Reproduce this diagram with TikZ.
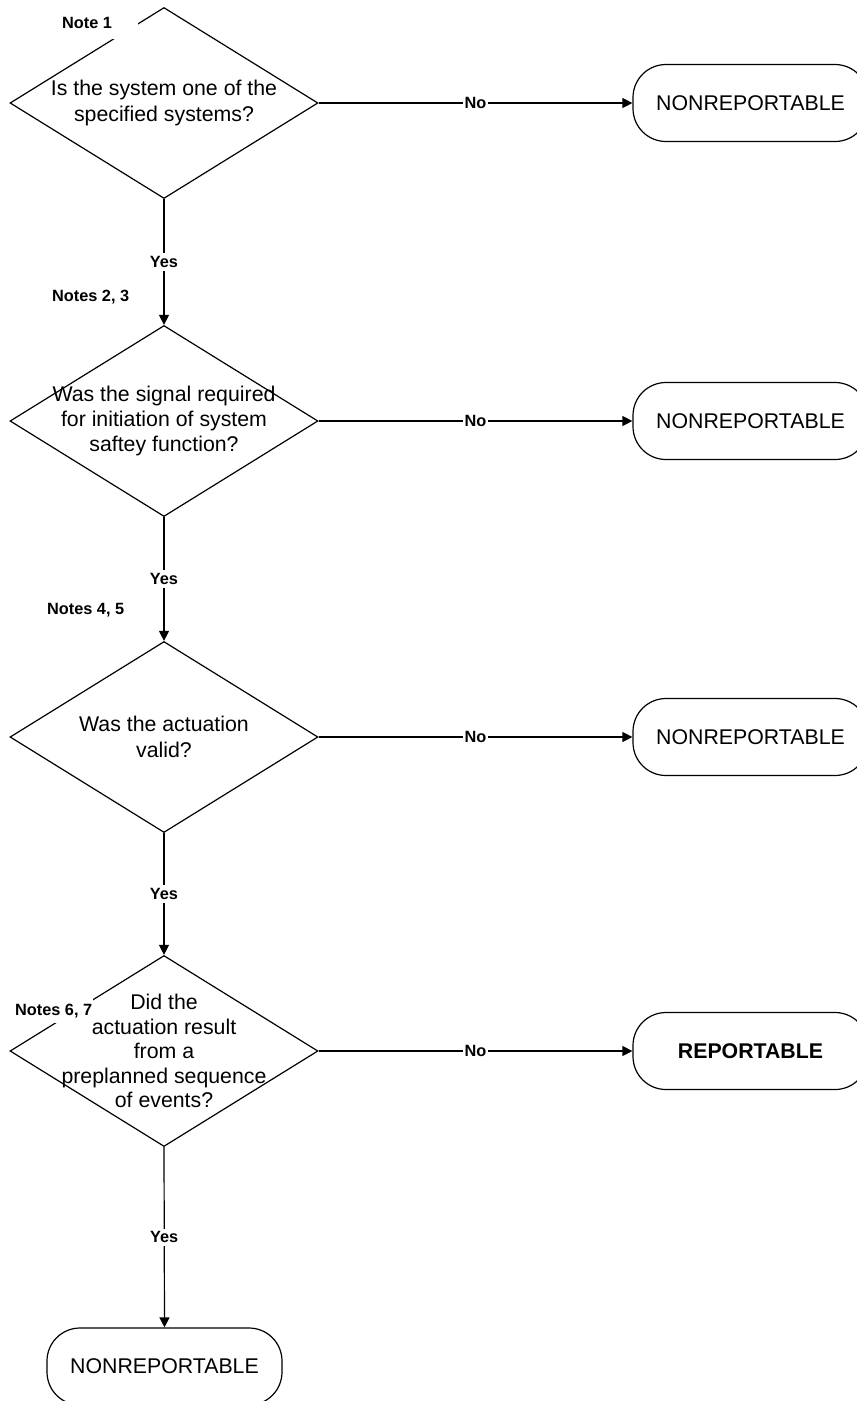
\documentclass[tikz,border=0pt]{standalone}
\usepackage{fontspec}
\setmainfont{Liberation Sans}
\usetikzlibrary{shapes.geometric,arrows.meta}
\begin{document}
\begin{tikzpicture}[x=1pt,y=-1pt,
  dia/.style={draw,shape=diamond,minimum width=308pt,minimum height=191pt,inner sep=0pt,line width=1.2pt},
  qtext/.style={align=center,font=\fontsize{21.3}{26}\selectfont,inner sep=0pt},
  term/.style={draw,rounded corners=33pt,minimum width=235pt,minimum height=77pt,line width=1.2pt,font=\fontsize{21.3}{26}\selectfont,inner sep=0pt},
  arr/.style={line width=1.2pt,-{Triangle[length=10pt,width=10pt]}},
  lbl/.style={fill=white,font=\bfseries\fontsize{16.3}{19}\selectfont,inner xsep=2pt,inner ysep=3pt},
  note/.style={fill=white,font=\bfseries\fontsize{16.3}{19}\selectfont,anchor=west,inner sep=0pt}]
\useasboundingbox (0,0) rectangle (857,1401);
\clip (0,0) rectangle (857,1401);

% decisions
\node[dia] (d1) at (164,103) {};
\node[dia] (d2) at (164,421) {};
\node[dia] (d3) at (164,737) {};
\node[dia] (d4) at (164,1051) {};

\node[qtext] (d1t) at (d1.center) {Is the system one of the\\specified systems?};
\node[qtext,font=\fontsize{21.3}{25}\selectfont] (d2t) at (d2.center) {Was the signal required\\for initiation of system\\saftey function?};
\node[qtext] (d3t) at (d3.center) {Was the actuation\\valid?};
\node[qtext,font=\fontsize{21.3}{24.5}\selectfont] (d4t) at (d4.center) {Did the\\actuation result\\from a\\preplanned sequence\\of events?};

% terminals
\node[term] (t1) at (750.5,103) {NONREPORTABLE};
\node[term] (t2) at (750.5,421) {NONREPORTABLE};
\node[term] (t3) at (750.5,737) {NONREPORTABLE};
\node[term,font=\bfseries\fontsize{21.3}{26}\selectfont] (t4) at (750.5,1051) {REPORTABLE};
\node[term] (t5) at (164.5,1366.5) {NONREPORTABLE};

% connectors
\draw[arr] (d1.east) -- node[lbl] (no1) {No} (t1.west);
\draw[arr] (d2.east) -- node[lbl] (no2) {No} (t2.west);
\draw[arr] (d3.east) -- node[lbl] (no3) {No} (t3.west);
\draw[arr] (d4.east) -- node[lbl] (no4) {No} (t4.west);

\draw[arr] (d1.south) -- node[lbl] (y1) {Yes} (d2.north);
\draw[arr] (d2.south) -- node[lbl] (y2) {Yes} (d3.north);
\draw[arr] (d3.south) -- node[lbl] (y3) {Yes} (d4.north);
\draw[arr] (d4.south) -- node[lbl] (y4) {Yes} (t5.north);

% notes
\node[note,minimum height=32pt] (nt1) at (62,23) {\makebox[76pt][l]{Note 1}};
\node[note] (nt2) at (52,297) {Notes 2, 3};
\node[note] (nt3) at (47,610) {Notes 4, 5};
\node[note,minimum height=24pt] (nt4) at (15,1011) {\makebox[78pt][l]{Notes 6, 7}};
\end{tikzpicture}
\end{document}
